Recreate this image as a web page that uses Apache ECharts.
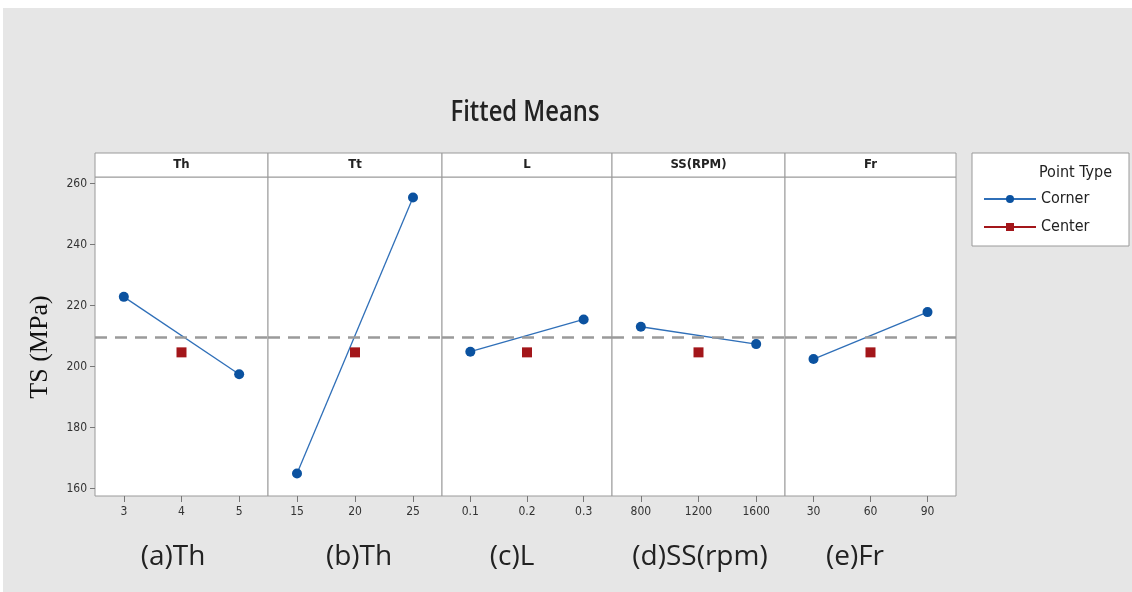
<!DOCTYPE html>
<html><head><meta charset="utf-8">
<script src="https://cdn.jsdelivr.net/npm/echarts@6/dist/echarts.min.js"></script>
<style>html,body{margin:0;padding:0;background:#fff}#c{width:1132px;height:592px}</style>
</head><body><div id="c"></div>
<script>
const factorNames = ['Th', 'Tt', 'L', 'SS(RPM)', 'Fr'];
const panelLabels = ['(a)Th', '(b)Th', '(c)L', '(d)SS(rpm)', '(e)Fr'];
const xTicks = [[3, 4, 5], [15, 20, 25], [0.1, 0.2, 0.3], [800, 1200, 1600], [30, 60, 90]];
const cornerLevels = [[3, 5], [15, 25], [0.1, 0.3], [800, 1600], [30, 90]];
const cornerMeans = [[222.8, 197.4], [164.9, 255.4], [204.8, 215.4], [213.0, 207.3], [202.4, 217.8]];
const centerLevels = [4, 20, 0.2, 1200, 60];
const centerMeans = [204.6, 204.6, 204.6, 204.6, 204.6];
const yTicks = [160, 180, 200, 220, 240, 260];
const overallMean = 209.7;

const edges = [95, 268, 442, 612, 785, 956];
const labelX = [173, 359, 512, 700, 855];
const plotTop = 177, plotBottom = 496;
const tickFont = "'Liberation Sans Narrow','DejaVu Sans Condensed','Open Sans',sans-serif";

const grid = [], xAxis = [], yAxis = [], series = [], graphic = [];
graphic.push({type:'rect', shape:{x:0,y:0,width:1132,height:8}, style:{fill:'#fff'}, silent:true});
graphic.push({type:'rect', shape:{x:0,y:0,width:3,height:592}, style:{fill:'#fff'}, silent:true});
graphic.push({type:'text', x:525, y:113, scaleX:0.85,
  style:{text:'Fitted Means', fontSize:28, fontFamily:"'Open Sans',sans-serif", fontWeight:600, fill:'#222', align:'center', verticalAlign:'middle'}});
graphic.push({type:'text', x:40, y:347, rotation:Math.PI/2,
  style:{text:'TS (MPa)', fontSize:26, fontFamily:"'Liberation Serif','Times New Roman',serif", fill:'#111', align:'center', verticalAlign:'middle'}});

for (let i = 0; i < 5; i++) {
  const l = edges[i], w = edges[i+1] - edges[i];
  grid.push({left:l, width:w, top:plotTop, height:plotBottom-plotTop, show:true, backgroundColor:'#fff', borderColor:'#9a9a9a', borderWidth:1});
  const t = xTicks[i], step = t[1]-t[0];
  xAxis.push({type:'value', gridIndex:i, min:t[0]-step/2, max:t[2]+step/2,
    axisLine:{show:false}, splitLine:{show:false},
    axisTick:{show:true, customValues:t, length:6, lineStyle:{color:'#777'}},
    axisLabel:{customValues:t, formatter:v=>String(v), color:'#333', fontSize:12, fontFamily:tickFont, margin:10}});
  yAxis.push({type:'value', gridIndex:i, min:157.5, max:262.1,
    axisLine:{show:false}, splitLine:{show:false},
    axisTick:{show:i===0, customValues:yTicks, length:5, lineStyle:{color:'#777'}},
    axisLabel:{show:i===0, customValues:yTicks, color:'#333', fontSize:12, fontFamily:tickFont, margin:8}});
  series.push({name:'Corner', type:'line', xAxisIndex:i, yAxisIndex:i,
    data:cornerLevels[i].map((x,k)=>[x, cornerMeans[i][k]]),
    symbol:'circle', symbolSize:10, lineStyle:{color:'#2f6fb8', width:1.3}, itemStyle:{color:'#0b52a0'},
    markLine:{silent:true, symbol:'none', label:{show:false}, lineStyle:{color:'#9a9a9a', type:[12,8], width:2.5},
      data:[{yAxis:overallMean}]}, z:3});
  series.push({name:'Center', type:'line', xAxisIndex:i, yAxisIndex:i,
    data:[[centerLevels[i], centerMeans[i]]],
    symbol:'rect', symbolSize:10, lineStyle:{color:'#a3161a', width:2}, itemStyle:{color:'#a3161a'}, z:3});
  graphic.push({type:'rect', shape:{x:l, y:153, width:w, height:24}, style:{fill:'#fff', stroke:'#9a9a9a', lineWidth:1}});
  graphic.push({type:'text', x:l+w/2, y:165, style:{text:factorNames[i], fontSize:13, fontWeight:'bold', fontFamily:tickFont, fill:'#222', align:'center', verticalAlign:'middle'}});
  graphic.push({type:'text', x:labelX[i], y:557, style:{text:panelLabels[i], fontSize:28, fontFamily:"'Open Sans',sans-serif", fill:'#222', align:'center', verticalAlign:'middle'}});
}
graphic.push({type:'rect', shape:{x:972, y:153, width:157, height:93}, style:{fill:'#fff', stroke:'#9a9a9a', lineWidth:1}});
graphic.push({type:'text', x:1039, y:173, style:{text:'Point Type', fontSize:16, fontFamily:tickFont, fill:'#222', verticalAlign:'middle'}});

const chart = echarts.init(document.getElementById('c'));
chart.setOption({
  backgroundColor:'#e6e6e6',
  animation:false,
  grid, xAxis, yAxis, series,
  legend:{data:['Corner','Center'], orient:'vertical', left:978, top:186, itemWidth:52, itemHeight:10, itemGap:12,
    textStyle:{fontSize:16, fontFamily:tickFont, color:'#222'}, selectedMode:false},
  graphic
});
</script></body></html>
